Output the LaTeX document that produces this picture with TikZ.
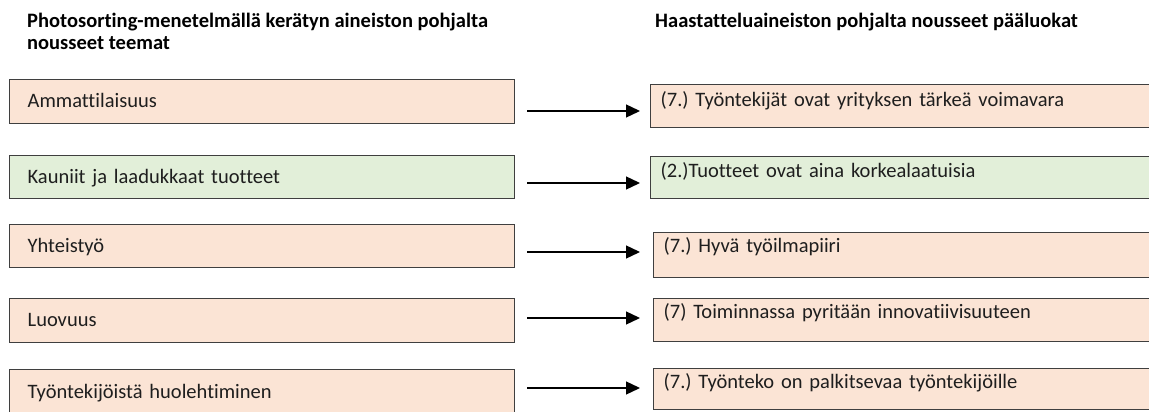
\documentclass[tikz,border=0pt]{standalone}
\usepackage{fontspec}
\setmainfont{Carlito}[Ligatures=NoCommon]
\usetikzlibrary{arrows.meta}
\definecolor{peach}{HTML}{FBE4D5}
\definecolor{sage}{HTML}{E2EFD9}
\definecolor{edge}{HTML}{3F3F3F}
\definecolor{ink}{HTML}{1E1E1E}
\frenchspacing
\begin{document}
\begin{tikzpicture}[x=1pt,y=-1pt,
  every node/.style={font=\fontsize{20.5}{22}\selectfont, text=ink},
  head/.style={anchor=base west, inner sep=0pt, align=left, font=\bfseries\fontsize{20.5}{22.5}\selectfont, text=black},
  lbox/.style={draw=edge, line width=1.3pt, anchor=north west, inner xsep=18pt, inner ysep=0pt,
    text width=469pt, align=left, text height=28pt, text depth=16pt},
  rbox/.style={draw=edge, line width=1.3pt, anchor=north west, inner xsep=10pt, inner ysep=0pt,
    text width=540pt, align=left, text height=22pt, text depth=21pt},
  conn/.style={draw=black, line width=1.3pt, -{Triangle[length=14pt,width=13pt]}}]
\useasboundingbox (0,0) rectangle (1149,412);
\fill[white] (0,0) rectangle (1149,412);
\clip (0,0) rectangle (1149,412);

% column headings (anchored on the baseline of the last line)
\node[head] (h1) at (27,50) {Photosorting-menetelmällä kerätyn aineiston pohjalta\\nousseet teemat};
\node[head] (h2) at (655,28) {Haastatteluaineiston pohjalta nousseet pääluokat};

% themes from the photo sorting material
\node[lbox, fill=peach] (L1) at (9,79)  {Ammattilaisuus};
\node[lbox, fill=sage, text depth=15pt] (L2) at (9,155) {Kauniit ja laadukkaat tuotteet};
\node[lbox, fill=peach, text depth=15pt] (L3) at (9,224) {Yhteistyö};
\node[lbox, fill=peach] (L4) at (9,298) {Luovuus};
\node[lbox, fill=peach, text height=29pt] (L5) at (9,369) {Työntekijöistä huolehtiminen};

% main categories from the interviews
\node[rbox, fill=peach] (R1) at (650,84)  {(7.) Työntekijät ovat yrityksen tärkeä voimavara};
\node[rbox, fill=sage, text height=21pt] (R2) at (650,156) {(2.)Tuotteet ovat aina korkealaatuisia};
\node[rbox, fill=peach, text height=20pt, text depth=25pt] (R3) at (653,232) {(7.) Hyvä työilmapiiri};
\node[rbox, fill=peach, text height=20pt, text depth=23pt] (R4) at (653,298) {(7) Toiminnassa pyritään innovatiivisuuteen};
\node[rbox, fill=peach, text height=20pt] (R5) at (653,368) {(7.) Työnteko on palkitsevaa työntekijöille};

% arrow levels
\coordinate (y1) at (0,111);
\coordinate (y2) at (0,183);
\coordinate (y3) at (0,252);
\coordinate (y4) at (0,318);
\coordinate (y5) at (0,388);

\draw[conn] ([xshift=12pt]L1.east |- y1) -- ([xshift=-10pt]R1.west |- y1);
\draw[conn] ([xshift=12pt]L2.east |- y2) -- ([xshift=-10pt]R2.west |- y2);
\draw[conn] ([xshift=12pt]L3.east |- y3) -- ([xshift=-13pt]R3.west |- y3);
\draw[conn] ([xshift=12pt]L4.east |- y4) -- ([xshift=-13pt]R4.west |- y4);
\draw[conn] ([xshift=12pt]L5.east |- y5) -- ([xshift=-13pt]R5.west |- y5);
\end{tikzpicture}
\end{document}
